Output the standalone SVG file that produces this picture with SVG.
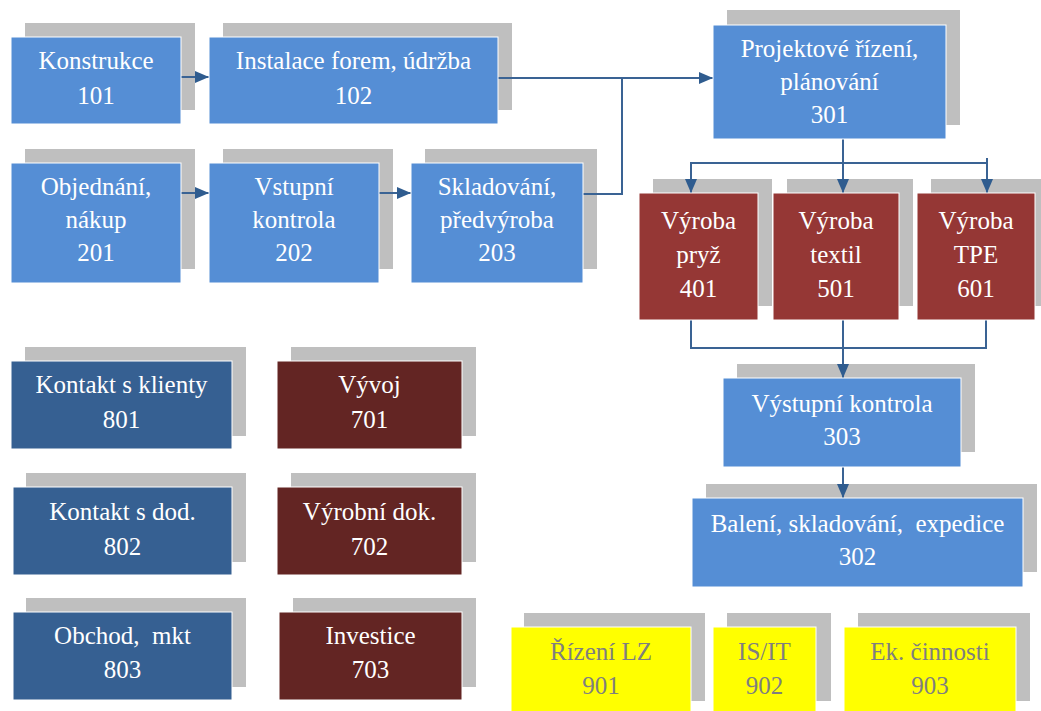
<svg xmlns="http://www.w3.org/2000/svg" width="1041" height="711" viewBox="0 0 1041 711">
  <style>
    text { font-family: "Liberation Serif", "Times New Roman", serif; font-size: 25px; text-anchor: middle; fill: #ffffff; white-space: pre; }
    .shadow { fill: #bfbfbf; }
    .box { stroke: #ffffff; stroke-width: 1; }
    .lblue { fill: #558ed5; }
    .dblue { fill: #366092; }
    .red { fill: #953735; }
    .dred { fill: #632523; }
    .yellow { fill: #ffff00; }
    .yellow-text text { fill: #7f7f7f; }
    .conn { fill: none; stroke: #3a6394; stroke-width: 2; }
  </style>
  <defs>
    <marker id="arrow" markerUnits="userSpaceOnUse" markerWidth="14" markerHeight="12" refX="14" refY="6" orient="auto">
      <path d="M0,0 L14,6 L0,12 z" fill="#2f5c8f"/>
    </marker>
  </defs>
  <rect width="1041" height="711" fill="#ffffff"/>

  <!-- shadows behind every box: offset +14, -14 -->
  <g id="shadows">
    <rect class="shadow" x="25" y="23" width="170" height="87"/>
    <rect class="shadow" x="223" y="23" width="289" height="87"/>
    <rect class="shadow" x="727" y="10" width="233" height="115"/>
    <rect class="shadow" x="25" y="149" width="170" height="120"/>
    <rect class="shadow" x="223" y="149" width="170" height="120"/>
    <rect class="shadow" x="425" y="149" width="172" height="120"/>
    <rect class="shadow" x="653" y="179" width="119" height="127"/>
    <rect class="shadow" x="787" y="179" width="126" height="127"/>
    <rect class="shadow" x="931" y="179" width="118" height="127"/>
    <rect class="shadow" x="25" y="347" width="221" height="89"/>
    <rect class="shadow" x="291" y="347" width="185" height="89"/>
    <rect class="shadow" x="26" y="473" width="220" height="89"/>
    <rect class="shadow" x="291" y="473" width="185" height="89"/>
    <rect class="shadow" x="26" y="598" width="220" height="89"/>
    <rect class="shadow" x="293" y="598" width="183" height="89"/>
    <rect class="shadow" x="737" y="364" width="238" height="88"/>
    <rect class="shadow" x="706" y="484" width="331" height="88"/>
    <rect class="shadow" x="524" y="613" width="181" height="88"/>
    <rect class="shadow" x="727" y="613" width="104" height="88"/>
    <rect class="shadow" x="858" y="613" width="172" height="88"/>
  </g>

  <!-- connectors -->
  <g id="connectors">
    <path class="conn" d="M181,77 H209" marker-end="url(#arrow)"/>
    <path class="conn" d="M498,78 H713" marker-end="url(#arrow)"/>
    <path class="conn" d="M583,194 H622 V78"/>
    <path class="conn" d="M181,193 H209" marker-end="url(#arrow)"/>
    <path class="conn" d="M379,193 H411" marker-end="url(#arrow)"/>
    <path class="conn" d="M843,139 V193" marker-end="url(#arrow)"/>
    <path class="conn" d="M691,193 V163 H987"/>
    <path class="conn" d="M691,163 V193" marker-end="url(#arrow)"/>
    <path class="conn" d="M987,158 V193" marker-end="url(#arrow)"/>
    <path class="conn" d="M691,320 V348 H986 V320"/>
    <path class="conn" d="M843,320 V378" marker-end="url(#arrow)"/>
    <path class="conn" d="M843,467 V498" marker-end="url(#arrow)"/>
  </g>

  <g id="n101">
    <rect class="box lblue" x="11" y="37" width="170" height="87"/>
    <text x="96" y="69">Konstrukce</text>
    <text x="96" y="104">101</text>
  </g>
  <g id="n102">
    <rect class="box lblue" x="209" y="37" width="289" height="87"/>
    <text x="353.5" y="69">Instalace forem, údržba</text>
    <text x="353.5" y="104">102</text>
  </g>
  <g id="n301">
    <rect class="box lblue" x="713" y="25" width="233" height="114"/>
    <text x="829.5" y="57">Projektové řízení,</text>
    <text x="829.5" y="90">plánování</text>
    <text x="829.5" y="123">301</text>
  </g>
  <g id="n201">
    <rect class="box lblue" x="11" y="163" width="170" height="120"/>
    <text x="96" y="195">Objednání,</text>
    <text x="96" y="228">nákup</text>
    <text x="96" y="261">201</text>
  </g>
  <g id="n202">
    <rect class="box lblue" x="209" y="163" width="170" height="120"/>
    <text x="294" y="195">Vstupní</text>
    <text x="294" y="228">kontrola</text>
    <text x="294" y="261">202</text>
  </g>
  <g id="n203">
    <rect class="box lblue" x="411" y="163" width="172" height="120"/>
    <text x="497" y="195">Skladování,</text>
    <text x="497" y="228">předvýroba</text>
    <text x="497" y="261">203</text>
  </g>
  <g id="n401">
    <rect class="box red" x="639" y="193" width="119" height="127"/>
    <text x="698.5" y="229">Výroba</text>
    <text x="698.5" y="263">pryž</text>
    <text x="698.5" y="297">401</text>
  </g>
  <g id="n501">
    <rect class="box red" x="773" y="193" width="126" height="127"/>
    <text x="836" y="229">Výroba</text>
    <text x="836" y="263">textil</text>
    <text x="836" y="297">501</text>
  </g>
  <g id="n601">
    <rect class="box red" x="917" y="193" width="118" height="127"/>
    <text x="976" y="229">Výroba</text>
    <text x="976" y="263">TPE</text>
    <text x="976" y="297">601</text>
  </g>
  <g id="n801">
    <rect class="box dblue" x="11" y="361" width="221" height="88"/>
    <text x="121.5" y="393">Kontakt s klienty</text>
    <text x="121.5" y="428">801</text>
  </g>
  <g id="n701">
    <rect class="box dred" x="277" y="361" width="185" height="88"/>
    <text x="369.5" y="393">Vývoj</text>
    <text x="369.5" y="428">701</text>
  </g>
  <g id="n802">
    <rect class="box dblue" x="13" y="487" width="219" height="88"/>
    <text x="122.5" y="520">Kontakt s dod.</text>
    <text x="122.5" y="555">802</text>
  </g>
  <g id="n702">
    <rect class="box dred" x="277" y="487" width="185" height="88"/>
    <text x="369.5" y="520">Výrobní dok.</text>
    <text x="369.5" y="555">702</text>
  </g>
  <g id="n803">
    <rect class="box dblue" x="13" y="612" width="219" height="88"/>
    <text x="122.5" y="644">Obchod,  mkt</text>
    <text x="122.5" y="678">803</text>
  </g>
  <g id="n703">
    <rect class="box dred" x="279" y="612" width="183" height="88"/>
    <text x="370.5" y="644">Investice</text>
    <text x="370.5" y="678">703</text>
  </g>
  <g id="n303">
    <rect class="box lblue" x="723" y="378" width="238" height="89"/>
    <text x="842" y="412">Výstupní kontrola</text>
    <text x="842" y="445">303</text>
  </g>
  <g id="n302">
    <rect class="box lblue" x="692" y="498" width="331" height="89"/>
    <text x="857.5" y="532">Balení, skladování,  expedice</text>
    <text x="857.5" y="565">302</text>
  </g>
  <g id="n901" class="yellow-text">
    <rect class="box yellow" x="511" y="627" width="180" height="90"/>
    <text x="601" y="660">Řízení LZ</text>
    <text x="601" y="694">901</text>
  </g>
  <g id="n902" class="yellow-text">
    <rect class="box yellow" x="713" y="627" width="103" height="90"/>
    <text x="764.5" y="660">IS/IT</text>
    <text x="764.5" y="694">902</text>
  </g>
  <g id="n903" class="yellow-text">
    <rect class="box yellow" x="844" y="627" width="172" height="90"/>
    <text x="930" y="660">Ek. činnosti</text>
    <text x="930" y="694">903</text>
  </g>
</svg>
